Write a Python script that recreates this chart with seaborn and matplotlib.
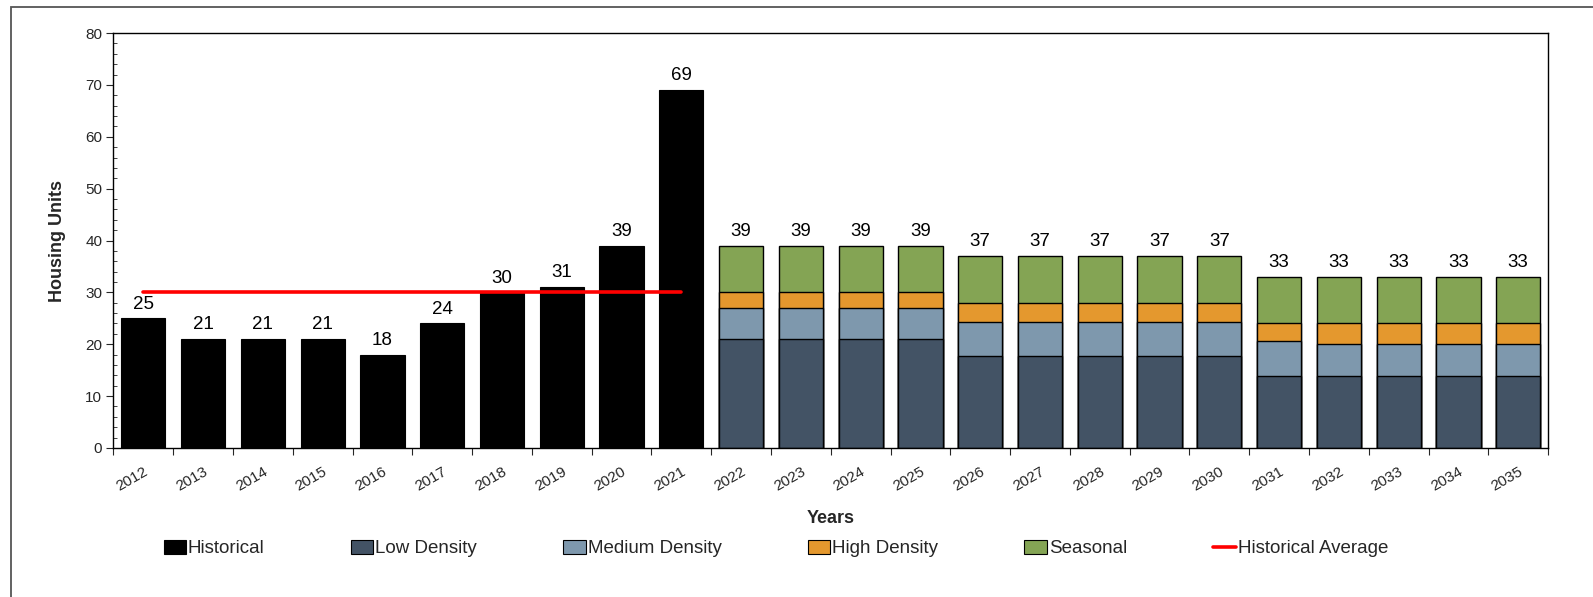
import matplotlib
matplotlib.use("Agg")
import matplotlib.pyplot as plt
import matplotlib.patches as mpatches
from matplotlib.lines import Line2D
from matplotlib.ticker import MultipleLocator
import seaborn as sns
import pandas as pd
import numpy as np

# data
hist_years = ["2012", "2013", "2014", "2015", "2016", "2017", "2018", "2019", "2020", "2021"]
historical = [25, 21, 21, 21, 18, 24, 30, 31, 39, 69]
hist_avg = 30

fc_years = ["2022", "2023", "2024", "2025", "2026", "2027", "2028", "2029", "2030",
            "2031", "2032", "2033", "2034", "2035"]
low_density = [21, 21, 21, 21, 17.8, 17.8, 17.8, 17.8, 17.8, 13.9, 13.9, 13.9, 13.9, 13.9]
medium_density = [6, 6, 6, 6, 6.4, 6.4, 6.4, 6.4, 6.4, 6.7, 6.2, 6.2, 6.2, 6.2]
high_density = [3, 3, 3, 3, 3.8, 3.8, 3.8, 3.8, 3.8, 3.4, 3.9, 3.9, 3.9, 3.9]
seasonal = [9, 9, 9, 9, 9, 9, 9, 9, 9, 9, 9, 9, 9, 9]

colors = {
    "Historical": "#000000",
    "Low Density": "#435365",
    "Medium Density": "#7E98AD",
    "High Density": "#E4982E",
    "Seasonal": "#84A454",
}

all_years = hist_years + fc_years

sns.set_style("white")
plt.rcParams["font.family"] = ["Liberation Sans", "DejaVu Sans"]

fig = plt.figure(figsize=(15.93, 5.97), dpi=100)
ax = fig.add_axes([0.0712, 0.2496, 0.9006, 0.6951])

# historical bars
hist_df = pd.DataFrame({"year": hist_years, "value": historical})
sns.barplot(data=hist_df, x="year", y="value", order=all_years, color=colors["Historical"],
            width=0.74, edgecolor="black", linewidth=0.8, saturation=1, ax=ax)

# stacked forecast: draw cumulative layers from the top down
fc = pd.DataFrame({"year": fc_years, "Low Density": low_density,
                   "Medium Density": medium_density, "High Density": high_density,
                   "Seasonal": seasonal})
layers = ["Low Density", "Medium Density", "High Density", "Seasonal"]
cum = fc[layers].cumsum(axis=1)
for name in reversed(layers):
    sns.barplot(x=fc["year"], y=cum[name], order=all_years, color=colors[name],
                width=0.74, edgecolor="black", linewidth=1.0, saturation=1, ax=ax)

# historical average line across the historical years
ax.plot([all_years.index(hist_years[0]), all_years.index(hist_years[-1])],
        [hist_avg, hist_avg], color="#FF0000", lw=2.6, solid_capstyle="round", zorder=5)

# value labels
totals = historical + list(np.round(cum["Seasonal"]).astype(int))
for i, t in enumerate(totals):
    ax.text(i, t + 1.1, f"{int(round(t))}", ha="center", va="bottom", fontsize=13.5, color="black")

ax.set_xlim(-0.5, len(all_years) - 0.5)
ax.set_ylim(0, 80)
ax.yaxis.set_major_locator(MultipleLocator(10))
ax.yaxis.set_minor_locator(MultipleLocator(2))
ax.tick_params(axis="y", which="major", direction="out", length=5, width=0.8, labelsize=11, left=True, pad=3)
ax.tick_params(axis="y", which="minor", direction="in", length=3, width=0.6, left=True)

# x ticks at category boundaries, labels at centers
ax.set_xticks(np.arange(len(all_years)))
ax.set_xticklabels(all_years, rotation=30, ha="right", rotation_mode="anchor", fontsize=11)
ax.tick_params(axis="x", which="major", length=0, pad=12)
ax.set_xticks(np.arange(len(all_years) + 1) - 0.5, minor=True)
ax.tick_params(axis="x", which="minor", direction="out", length=5, width=0.8, bottom=True)

for s in ax.spines.values():
    s.set_visible(True)
    s.set_color("black")
    s.set_linewidth(1.0)

ax.set_xlabel("Years", fontsize=13, fontweight="bold", labelpad=12)
ax.set_ylabel("Housing Units", fontsize=13, fontweight="bold", labelpad=14)

# legend
handles = [mpatches.Patch(facecolor=colors[k], edgecolor="black", linewidth=0.8, label=k)
           for k in ["Historical", "Low Density", "Medium Density", "High Density", "Seasonal"]]
handles.append(Line2D([], [], color="#FF0000", lw=2.6, label="Historical Average"))
fig.legend(handles=handles, loc="center", bbox_to_anchor=(0.487, 0.081), ncol=6, frameon=False,
           fontsize=13.5, handlelength=1.2, handleheight=0.8, handletextpad=0.1, columnspacing=4.6)

# outer chart-area frame
fig.patches.append(mpatches.Rectangle((11 / 1593, -0.1), 1.2, 1.1 - 7 / 597,
                                      transform=fig.transFigure, fill=False,
                                      edgecolor="#555555", linewidth=1.3))

fig.savefig("out.png", dpi=100)
